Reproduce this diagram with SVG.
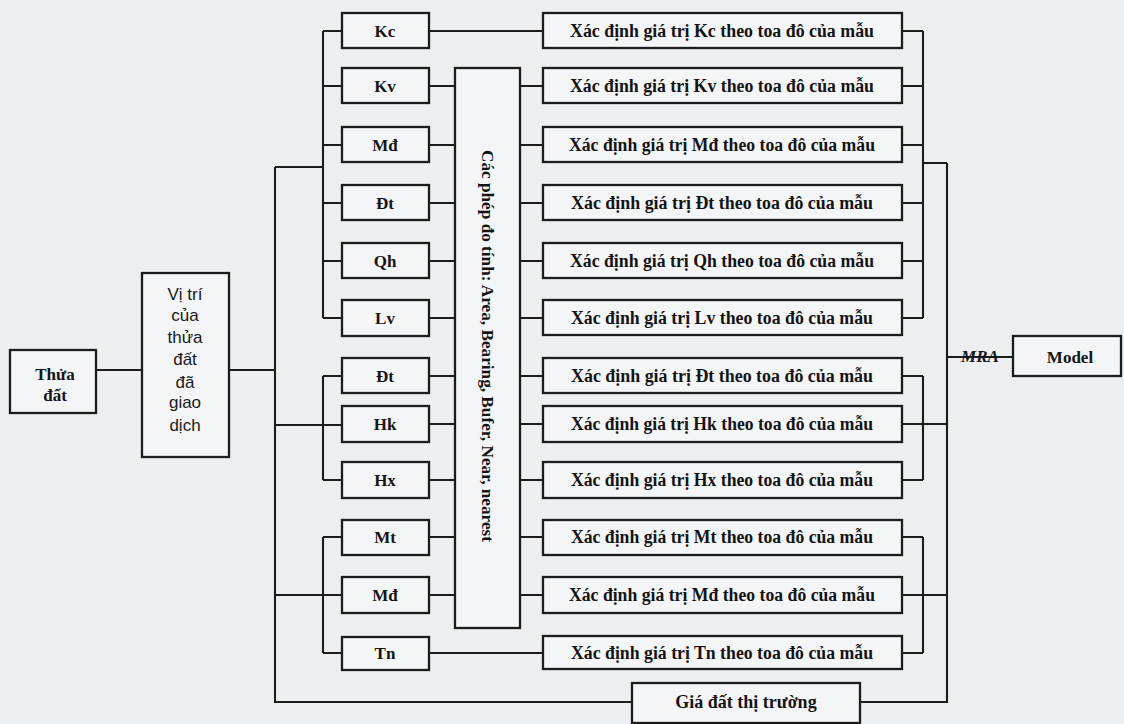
<svg xmlns="http://www.w3.org/2000/svg" width="1124" height="724" viewBox="0 0 1124 724">
<style>
.bg{fill:#eceef2}
.box{fill:#f4f5f7;stroke:#1c1c1c;stroke-width:2.3}
.ln{fill:none;stroke:#1c1c1c;stroke-width:2.1}
.lab{font-family:"Liberation Serif",serif;font-weight:bold;font-size:17px;fill:#141414;text-anchor:middle}
.xd{font-family:"Liberation Serif",serif;font-weight:bold;font-size:18px;fill:#141414;text-anchor:middle}
.sans{font-family:"Liberation Sans",Arial,sans-serif;font-size:17px;fill:#1a1a1a;text-anchor:middle}
</style>
<rect class="bg" x="0" y="0" width="1124" height="724"/>

<g id="connectors">
<path class="ln" d="M96 370H142M229 370H275M275 167V702H632"/>
<path class="ln" d="M275 167H323M323 31V318M323 31H342M323 86H342M323 145H342M323 203H342M323 261H342M323 318H342"/>
<path class="ln" d="M275 425H342M323 376V480M323 376H342M323 480H342"/>
<path class="ln" d="M275 595H342M323 537V653M323 537H342M323 653H342"/>
<path class="ln" d="M429 31H543M429 653H543"/>
<path class="ln" d="M429 86H455M520 86H543M429 145H455M520 145H543M429 203H455M520 203H543M429 261H455M520 261H543M429 318H455M520 318H543M429 376H455M520 376H543M429 424H455M520 424H543M429 480H455M520 480H543M429 537H455M520 537H543M429 595H455M520 595H543"/>
<path class="ln" d="M902 31H923M902 86H923M902 145H923M902 203H923M902 261H923M902 318H923M923 31V318M923 163H947"/>
<path class="ln" d="M902 376H923M902 480H923M923 376V480M902 424H947"/>
<path class="ln" d="M902 537H923M902 653H923M923 537V653M902 595H947"/>
<path class="ln" d="M947 163V702H860M947 357H1013"/>
</g>

<g id="thua-dat">
<rect class="box" x="10" y="350" width="86" height="63"/>
<text class="lab" x="55" y="380">Thửa</text>
<text class="lab" x="55" y="401">đất</text>
</g>

<g id="vi-tri">
<rect class="box" x="142" y="273" width="87" height="184"/>
<text class="sans" x="185" y="300">Vị trí</text>
<text class="sans" x="185" y="321">của</text>
<text class="sans" x="185" y="343">thửa</text>
<text class="sans" x="185" y="365">đất</text>
<text class="sans" x="185" y="388">đã</text>
<text class="sans" x="185" y="408">giao</text>
<text class="sans" x="185" y="431">dịch</text>
</g>

<g id="k-kc"><rect class="box" x="342" y="13" width="87" height="35"/><text class="lab" x="385" y="37">Kc</text></g>
<g id="k-kv"><rect class="box" x="342" y="68" width="87" height="35"/><text class="lab" x="385" y="92">Kv</text></g>
<g id="k-md1"><rect class="box" x="342" y="127" width="87" height="35"/><text class="lab" x="385" y="151">Mđ</text></g>
<g id="k-dt1"><rect class="box" x="342" y="185" width="87" height="35"/><text class="lab" x="385" y="209">Đt</text></g>
<g id="k-qh"><rect class="box" x="342" y="243" width="87" height="35"/><text class="lab" x="385" y="267">Qh</text></g>
<g id="k-lv"><rect class="box" x="342" y="300" width="87" height="36"/><text class="lab" x="385" y="324">Lv</text></g>
<g id="k-dt2"><rect class="box" x="342" y="358" width="87" height="35"/><text class="lab" x="385" y="382">Đt</text></g>
<g id="k-hk"><rect class="box" x="342" y="406" width="87" height="36"/><text class="lab" x="385" y="430">Hk</text></g>
<g id="k-hx"><rect class="box" x="342" y="462" width="87" height="36"/><text class="lab" x="385" y="486">Hx</text></g>
<g id="k-mt"><rect class="box" x="342" y="520" width="87" height="35"/><text class="lab" x="385" y="543">Mt</text></g>
<g id="k-md2"><rect class="box" x="342" y="577" width="87" height="36"/><text class="lab" x="385" y="601">Mđ</text></g>
<g id="k-tn"><rect class="box" x="342" y="637" width="87" height="33"/><text class="lab" x="385" y="659">Tn</text></g>

<g id="phep-do">
<rect class="box" x="455" y="68" width="65" height="560"/>
<text class="lab" font-size="16" transform="translate(482 346) rotate(90)" textLength="392" lengthAdjust="spacingAndGlyphs">Các phép đo tính: Area, Bearing, Bufer, Near, nearest</text>
</g>

<g id="x-kc"><rect class="box" x="543" y="13" width="359" height="35"/><text class="xd" x="722" y="37" textLength="304" lengthAdjust="spacingAndGlyphs">Xác định giá trị Kc theo toa đô của mẫu</text></g>
<g id="x-kv"><rect class="box" x="543" y="68" width="359" height="35"/><text class="xd" x="722" y="92" textLength="304" lengthAdjust="spacingAndGlyphs">Xác định giá trị Kv theo toa đô của mẫu</text></g>
<g id="x-md1"><rect class="box" x="543" y="127" width="359" height="35"/><text class="xd" x="722" y="151" textLength="306" lengthAdjust="spacingAndGlyphs">Xác định giá trị Mđ theo toa đô của mẫu</text></g>
<g id="x-dt1"><rect class="box" x="543" y="185" width="359" height="35"/><text class="xd" x="722" y="209" textLength="302" lengthAdjust="spacingAndGlyphs">Xác định giá trị Đt theo toa đô của mẫu</text></g>
<g id="x-qh"><rect class="box" x="543" y="243" width="359" height="35"/><text class="xd" x="722" y="267" textLength="304" lengthAdjust="spacingAndGlyphs">Xác định giá trị Qh theo toa đô của mẫu</text></g>
<g id="x-lv"><rect class="box" x="543" y="300" width="359" height="35"/><text class="xd" x="722" y="324" textLength="302" lengthAdjust="spacingAndGlyphs">Xác định giá trị Lv theo toa đô của mẫu</text></g>
<g id="x-dt2"><rect class="box" x="543" y="358" width="359" height="35"/><text class="xd" x="722" y="382" textLength="302" lengthAdjust="spacingAndGlyphs">Xác định giá trị Đt theo toa đô của mẫu</text></g>
<g id="x-hk"><rect class="box" x="543" y="406" width="359" height="36"/><text class="xd" x="722" y="430" textLength="302" lengthAdjust="spacingAndGlyphs">Xác định giá trị Hk theo toa đô của mẫu</text></g>
<g id="x-hx"><rect class="box" x="543" y="462" width="359" height="36"/><text class="xd" x="722" y="486" textLength="302" lengthAdjust="spacingAndGlyphs">Xác định giá trị Hx theo toa đô của mẫu</text></g>
<g id="x-mt"><rect class="box" x="543" y="520" width="359" height="35"/><text class="xd" x="722" y="543" textLength="302" lengthAdjust="spacingAndGlyphs">Xác định giá trị Mt theo toa đô của mẫu</text></g>
<g id="x-md2"><rect class="box" x="543" y="577" width="359" height="36"/><text class="xd" x="722" y="601" textLength="306" lengthAdjust="spacingAndGlyphs">Xác định giá trị Mđ theo toa đô của mẫu</text></g>
<g id="x-tn"><rect class="box" x="543" y="636" width="359" height="33"/><text class="xd" x="722" y="659" textLength="302" lengthAdjust="spacingAndGlyphs">Xác định giá trị Tn theo toa đô của mẫu</text></g>

<g id="gia-dat">
<rect class="box" x="632" y="683" width="228" height="40"/>
<text class="xd" x="746" y="708">Giá đất thị trường</text>
</g>

<g id="mra">
<text class="lab" x="980" y="362" font-style="italic" font-size="15">MRA</text>
</g>

<g id="model">
<rect class="box" x="1013" y="336" width="108" height="40"/>
<text class="lab" x="1070" y="363" font-size="20">Model</text>
</g>
</svg>
